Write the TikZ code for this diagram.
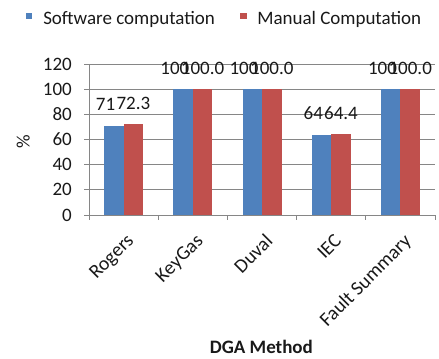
\documentclass[tikz,border=0pt]{standalone}
\usepackage{fontspec}
\setmainfont{Carlito}
\definecolor{softblue}{RGB}{79,129,189}
\definecolor{manred}{RGB}{192,80,77}
\definecolor{gridgray}{RGB}{134,134,134}
\begin{document}
\begin{tikzpicture}[x=0.025cm,y=0.025cm,font=\fontsize{13.5}{16}\selectfont,
    lbl/.style={inner sep=0pt,text=black!90},
    gridline/.style={draw=gridgray,line width=0.7pt}]
    \useasboundingbox (0,0) rectangle (439,358);
    % legend
    \fill[softblue] (26,339) rectangle (32,345);
    \node[lbl,anchor=base west] (legsoft) at (43,334) {Software computation};
    \fill[manred] (240,339) rectangle (247,345);
    \node[lbl,anchor=base west] (legman) at (257,334) {Manual Computation};
    \begin{scope}[shift={(89,143)},x=1.73cm,y=0.031425cm]
        % grid and axes
        \foreach \v in {20,40,...,120}
        {
            \draw[gridline] (-0.07,\v) -- (5,\v);
        }
        \draw[gridline] (0,0) -- (0,120);
        \draw[gridline] (-0.07,0) -- (5,0);
        \foreach \i in {0,...,5}
        {
            \draw[gridline] (\i,0) -- (\i,-4);
        }
        \foreach \v in {0,20,...,120}
        {
            \node[lbl,anchor=east] (tick\v) at (-0.245,\v) {\v};
        }
        % bars and value labels
        \foreach \i/\a/\b/\la/\lb/\name in {0/71/72.3/71/72.3/Rogers,1/100/100/100/100.0/KeyGas,2/100/100/100/100.0/Duval,3/64/64.4/64/64.4/IEC,4/100/100/100/100.0/Fault Summary}
        {
            \fill[softblue] (\i+0.218,0) rectangle (\i+0.5,\a);
            \fill[manred] (\i+0.5,0) rectangle (\i+0.782,\b);
            \node[lbl] (sw\i) at (\i+0.24,\a+16.7) {\la};
            \node[lbl] (mc\i) at (\i+0.641,\b+16.7) {\lb};
            \node[lbl,rotate=45,anchor=north east,font=\fontsize{14}{16}\selectfont] (cat\i) at (\i+0.53,-14) {\name};
        }
        \node[lbl,rotate=90] (ylab) at (-0.95,58) {\%};
        \node[lbl,font=\fontsize{13.5}{16}\selectfont\bfseries] (xlab) at (2.49,-105) {DGA Method};
    \end{scope}
\end{tikzpicture}
\end{document}
